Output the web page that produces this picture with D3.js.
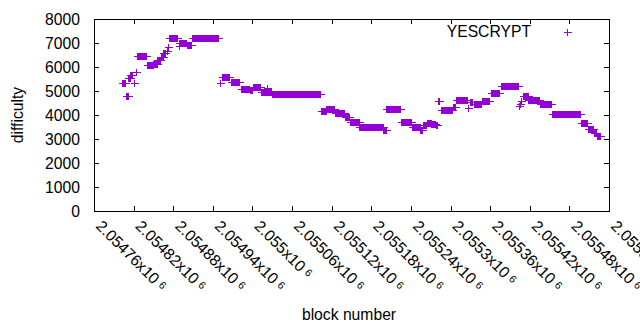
<!DOCTYPE html>
<html>
<head>
<meta charset="utf-8">
<script src="https://cdn.jsdelivr.net/npm/d3@7"></script>
<style>
  body { margin: 0; background: #fff; }
  svg { display: block; font-family: "Liberation Sans", Arial, sans-serif; }
</style>
</head>
<body>
<svg id="chart" width="640" height="330"></svg>
<script>
/*
  Difficulty per block for the YESCRYPT algo
*/
const seriesName = "YESCRYPT"
const blockBase = 2054760

// runs of consecutive blocks sharing one difficulty (offsets from blockBase, inclusive)
const runStart = [43, 49, 52, 55, 60, 63, 65, 80, 90, 96, 101, 105, 110, 112, 114, 128, 129, 141, 149,
  191, 194, 207, 222, 236, 241, 253, 262, 270, 344, 352, 365, 380, 387, 402, 438, 443, 465, 481, 494,
  498, 504, 511, 518, 521, 525, 543, 549, 567, 569, 575, 588, 601, 616, 643, 645, 647, 649, 658, 675,
  694, 737, 748, 757, 762]
const runEnd = [47, 51, 54, 57, 60, 63, 79, 89, 95, 100, 104, 108, 110, 112, 126, 128, 140, 147, 188,
  191, 205, 220, 235, 240, 251, 268, 262, 342, 351, 364, 379, 386, 401, 437, 442, 464, 480, 493, 497,
  503, 510, 517, 520, 523, 542, 547, 565, 567, 573, 586, 599, 614, 642, 643, 645, 647, 657, 674, 692,
  736, 747, 756, 761, 766]
const runDifficulty = [5320, 4780, 5560, 5650, 5350, 5790, 6450, 6070, 6120, 6290, 6430, 6580, 6680, 6830, 7220, 6880, 7020, 6930, 7200,
  5340, 5600, 5360, 5100, 5060, 5150, 4950, 5110, 4870, 4180, 4230, 4070, 3930, 3710, 3490, 3370, 4240, 3720, 3510, 3390,
  3600, 3680, 3640, 3580, 4570, 4210, 4350, 4630, 4280, 4560, 4460, 4570, 4930, 5190, 4380, 4460, 4600, 4790, 4620, 4440,
  4060, 3650, 3430, 3240, 3120]

const xTicks = [2054760, 2054820, 2054880, 2054940, 2055000, 2055060, 2055120,
  2055180, 2055240, 2055300, 2055360, 2055420, 2055480, 2055540]
const yTicks = [0, 1000, 2000, 3000, 4000, 5000, 6000, 7000, 8000]

const color = "#9400d3"
const plot = { left: 94, right: 609, top: 19, bottom: 211 }
const fontSize = 15.7

const svg = d3.select("#chart")

const x = d3.scaleLinear()
  .domain([xTicks[0], xTicks[xTicks.length - 1]])
  .range([plot.left, plot.right])

const y = d3.scaleLinear()
  .domain([0, 8000])
  .range([plot.bottom, plot.top])

// decode the runs into one point per block
const points = []
runStart.forEach((s, i) => {
  for (let b = s; b <= runEnd[i]; b++) {
    points.push({ block: blockBase + b, difficulty: runDifficulty[i] })
  }
})

/**
 * drawAxes()
 * @description draws the ticks, tick labels and border
 */
function drawAxes() {
  svg.append("g")
    .attr("transform", `translate(${plot.left},0)`)
    .call(d3.axisLeft(y).tickValues(yTicks).tickFormat(d3.format("d")).tickSize(-5).tickPadding(14))
    .call(g => g.select(".domain").remove())
    .call(g => g.selectAll("text").style("font-size", fontSize + "px").attr("fill", "#000"))

  svg.append("g")
    .attr("transform", `translate(${plot.right},0)`)
    .call(d3.axisRight(y).tickValues(yTicks).tickSize(-5).tickFormat(""))
    .call(g => g.select(".domain").remove())

  svg.append("g")
    .attr("transform", `translate(0,${plot.bottom})`)
    .call(d3.axisBottom(x).tickValues(xTicks).tickSize(-5).tickFormat(""))
    .call(g => g.select(".domain").remove())

  svg.append("g")
    .attr("transform", `translate(0,${plot.top})`)
    .call(d3.axisTop(x).tickValues(xTicks).tickSize(-5).tickFormat(""))
    .call(g => g.select(".domain").remove())

  svg.selectAll(".tick line").attr("stroke", "#000").attr("shape-rendering", "crispEdges")

  // rotated x labels in gnuplot style: mantissa x10^6
  const mantissa = d3.format(".6~g")
  const labels = svg.append("g")
    .selectAll("text")
    .data(xTicks)
    .join("text")
    .attr("transform", d => `translate(${x(d) + 1},227) rotate(45)`)
    .style("font-size", fontSize + "px")
    .attr("fill", "#000")

  labels.append("tspan").text(d => mantissa(d / 1e6) + "x10")
  labels.append("tspan")
    .attr("dx", 4)
    .attr("dy", -3)
    .style("font-size", "10.5px")
    .text("6")

  svg.append("rect")
    .attr("x", plot.left + 0.5)
    .attr("y", plot.top + 0.5)
    .attr("width", plot.right - plot.left)
    .attr("height", plot.bottom - plot.top)
    .attr("fill", "none")
    .attr("stroke", "#000")
    .attr("shape-rendering", "crispEdges")

  svg.append("text")
    .attr("transform", `translate(17,${(plot.top + plot.bottom) / 2}) rotate(-90)`)
    .attr("text-anchor", "middle")
    .attr("dominant-baseline", "central")
    .style("font-size", fontSize + "px")
    .text("difficulty")

  svg.append("text")
    .attr("x", 349)
    .attr("y", 320)
    .attr("text-anchor", "middle")
    .style("font-size", fontSize + "px")
    .text("block number")
}

const plusPath = "M-4,0H4M0,-3.5V3.5"

/**
 * drawPoints()
 * @description draws one plus marker per block
 */
function drawPoints() {
  svg.append("g")
    .attr("stroke", color)
    .attr("stroke-width", 1)
    .attr("fill", "none")
    .attr("shape-rendering", "crispEdges")
    .selectAll("path")
    .data(points)
    .join("path")
    .attr("transform", d => `translate(${Math.round(x(d.block)) + 0.5},${Math.round(y(d.difficulty)) + 0.5})`)
    .attr("d", plusPath)
}

/**
 * drawLegend()
 * @description draws the key in the top right corner
 */
function drawLegend() {
  svg.append("text")
    .attr("x", 531)
    .attr("y", 37)
    .attr("text-anchor", "end")
    .style("font-size", fontSize + "px")
    .text(seriesName)

  svg.append("path")
    .attr("transform", "translate(567.5,32.5)")
    .attr("d", plusPath)
    .attr("stroke", color)
    .attr("shape-rendering", "crispEdges")
}

drawAxes()
drawPoints()
drawLegend()
</script>
</body>
</html>
